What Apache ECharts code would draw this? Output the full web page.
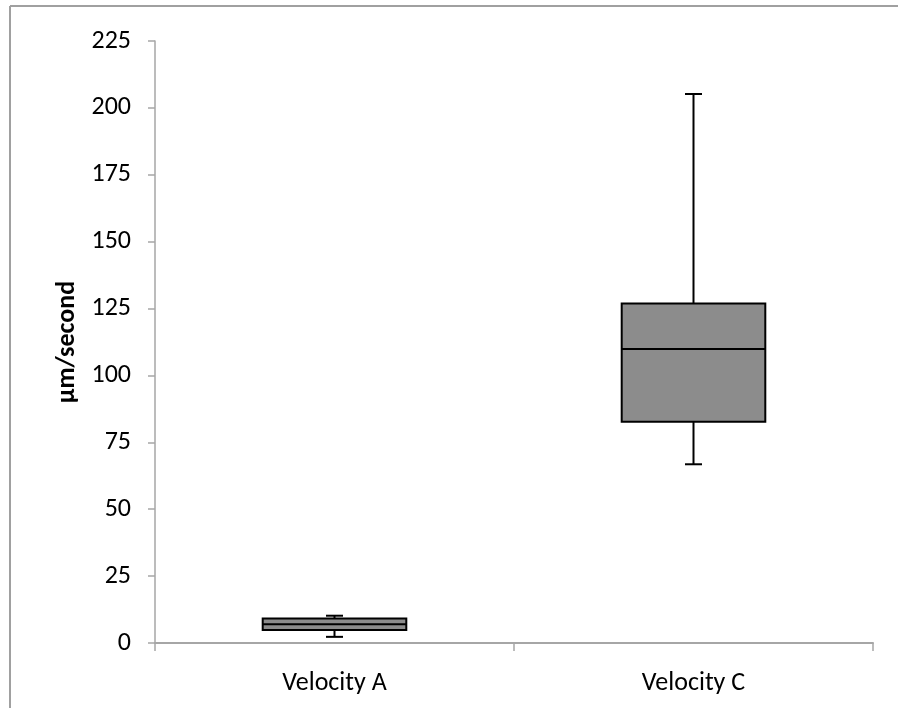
<!DOCTYPE html>
<html>
<head>
<meta charset="utf-8">
<script src="https://cdn.jsdelivr.net/npm/echarts@6/dist/echarts.min.js"></script>
<style>
html,body{margin:0;padding:0;background:#fff;}
#c{width:898px;height:708px;}
</style>
</head>
<body>
<div id="c"></div>
<script>
const categories = ['Velocity A', 'Velocity C'];
const mins    = [2.3, 66.8];
const q1s     = [4.9, 82.7];
const medians = [7.0, 109.9];
const q3s     = [9.2, 126.9];
const maxs    = [10.2, 205.2];
const yTicks  = [0, 25, 50, 75, 100, 125, 150, 175, 200, 225];

const data = categories.map((c, i) => [i, mins[i], q1s[i], medians[i], q3s[i], maxs[i]]);

const chart = echarts.init(document.getElementById('c'), null, {renderer: 'canvas'});

function renderItem(params, api) {
  const idx = api.value(0);
  const vMin = api.value(1), vQ1 = api.value(2), vMed = api.value(3), vQ3 = api.value(4), vMax = api.value(5);
  const catW = api.size([1, 0])[0];
  const half = catW * 0.2;
  const capHalf = 8.5;
  const pMin = api.coord([idx, vMin]);
  const pQ1 = api.coord([idx, vQ1]);
  const pMed = api.coord([idx, vMed]);
  const pQ3 = api.coord([idx, vQ3]);
  const pMax = api.coord([idx, vMax]);
  const x = pMed[0];
  const stroke = {stroke: '#000', lineWidth: 2};
  return {
    type: 'group',
    children: [
      {type: 'line', shape: {x1: x, y1: pMax[1], x2: x, y2: pQ3[1]}, style: stroke},
      {type: 'line', shape: {x1: x, y1: pQ1[1], x2: x, y2: pMin[1]}, style: stroke},
      {type: 'line', shape: {x1: x - capHalf, y1: pMax[1], x2: x + capHalf, y2: pMax[1]}, style: stroke},
      {type: 'line', shape: {x1: x - capHalf, y1: pMin[1], x2: x + capHalf, y2: pMin[1]}, style: stroke},
      {type: 'rect', shape: {x: x - half, y: pQ3[1], width: half * 2, height: pQ1[1] - pQ3[1]},
        style: {fill: '#8c8c8c', stroke: '#000', lineWidth: 2}},
      {type: 'line', shape: {x1: x - half, y1: pMed[1], x2: x + half, y2: pMed[1]}, style: stroke}
    ]
  };
}

const font = 'Carlito, Liberation Sans, Arial, sans-serif';

chart.setOption({
  animation: false,
  backgroundColor: '#fff',
  graphic: [
    {type: 'line', z: -10, shape: {x1: 10, y1: 6, x2: 898, y2: 6}, style: {stroke: '#a0a0a0', lineWidth: 2}},
    {type: 'line', z: -10, shape: {x1: 10, y1: 6, x2: 10, y2: 708}, style: {stroke: '#a0a0a0', lineWidth: 2}}
  ],
  grid: {left: 155, top: 41, right: 25, bottom: 65, containLabel: false},
  xAxis: {
    type: 'category',
    data: categories,
    boundaryGap: true,
    axisLine: {lineStyle: {color: '#a6a6a6', width: 2}},
    axisTick: {show: true, length: 8, alignWithLabel: false, lineStyle: {color: '#a6a6a6', width: 1.5}},
    axisLabel: {color: '#000', fontSize: 26, fontFamily: font, margin: 27},
    splitLine: {show: false}
  },
  yAxis: {
    type: 'value',
    min: 0, max: 225, interval: 25,
    name: 'µm/second',
    nameLocation: 'middle',
    nameRotate: 90,
    nameGap: 74,
    nameTextStyle: {color: '#000', fontSize: 26, fontWeight: 'bold', fontFamily: font},
    axisLine: {show: true, lineStyle: {color: '#a6a6a6', width: 1.5}},
    axisTick: {show: true, length: 7, inside: false, lineStyle: {color: '#a6a6a6', width: 1.5}},
    axisLabel: {color: '#000', fontSize: 26, fontFamily: font, margin: 24,
      formatter: v => yTicks.includes(v) ? String(v) : ''},
    splitLine: {show: false}
  },
  series: [{
    type: 'custom',
    renderItem: renderItem,
    encode: {x: 0, y: [1, 2, 3, 4, 5]},
    data: data
  }]
});
</script>
</body>
</html>
